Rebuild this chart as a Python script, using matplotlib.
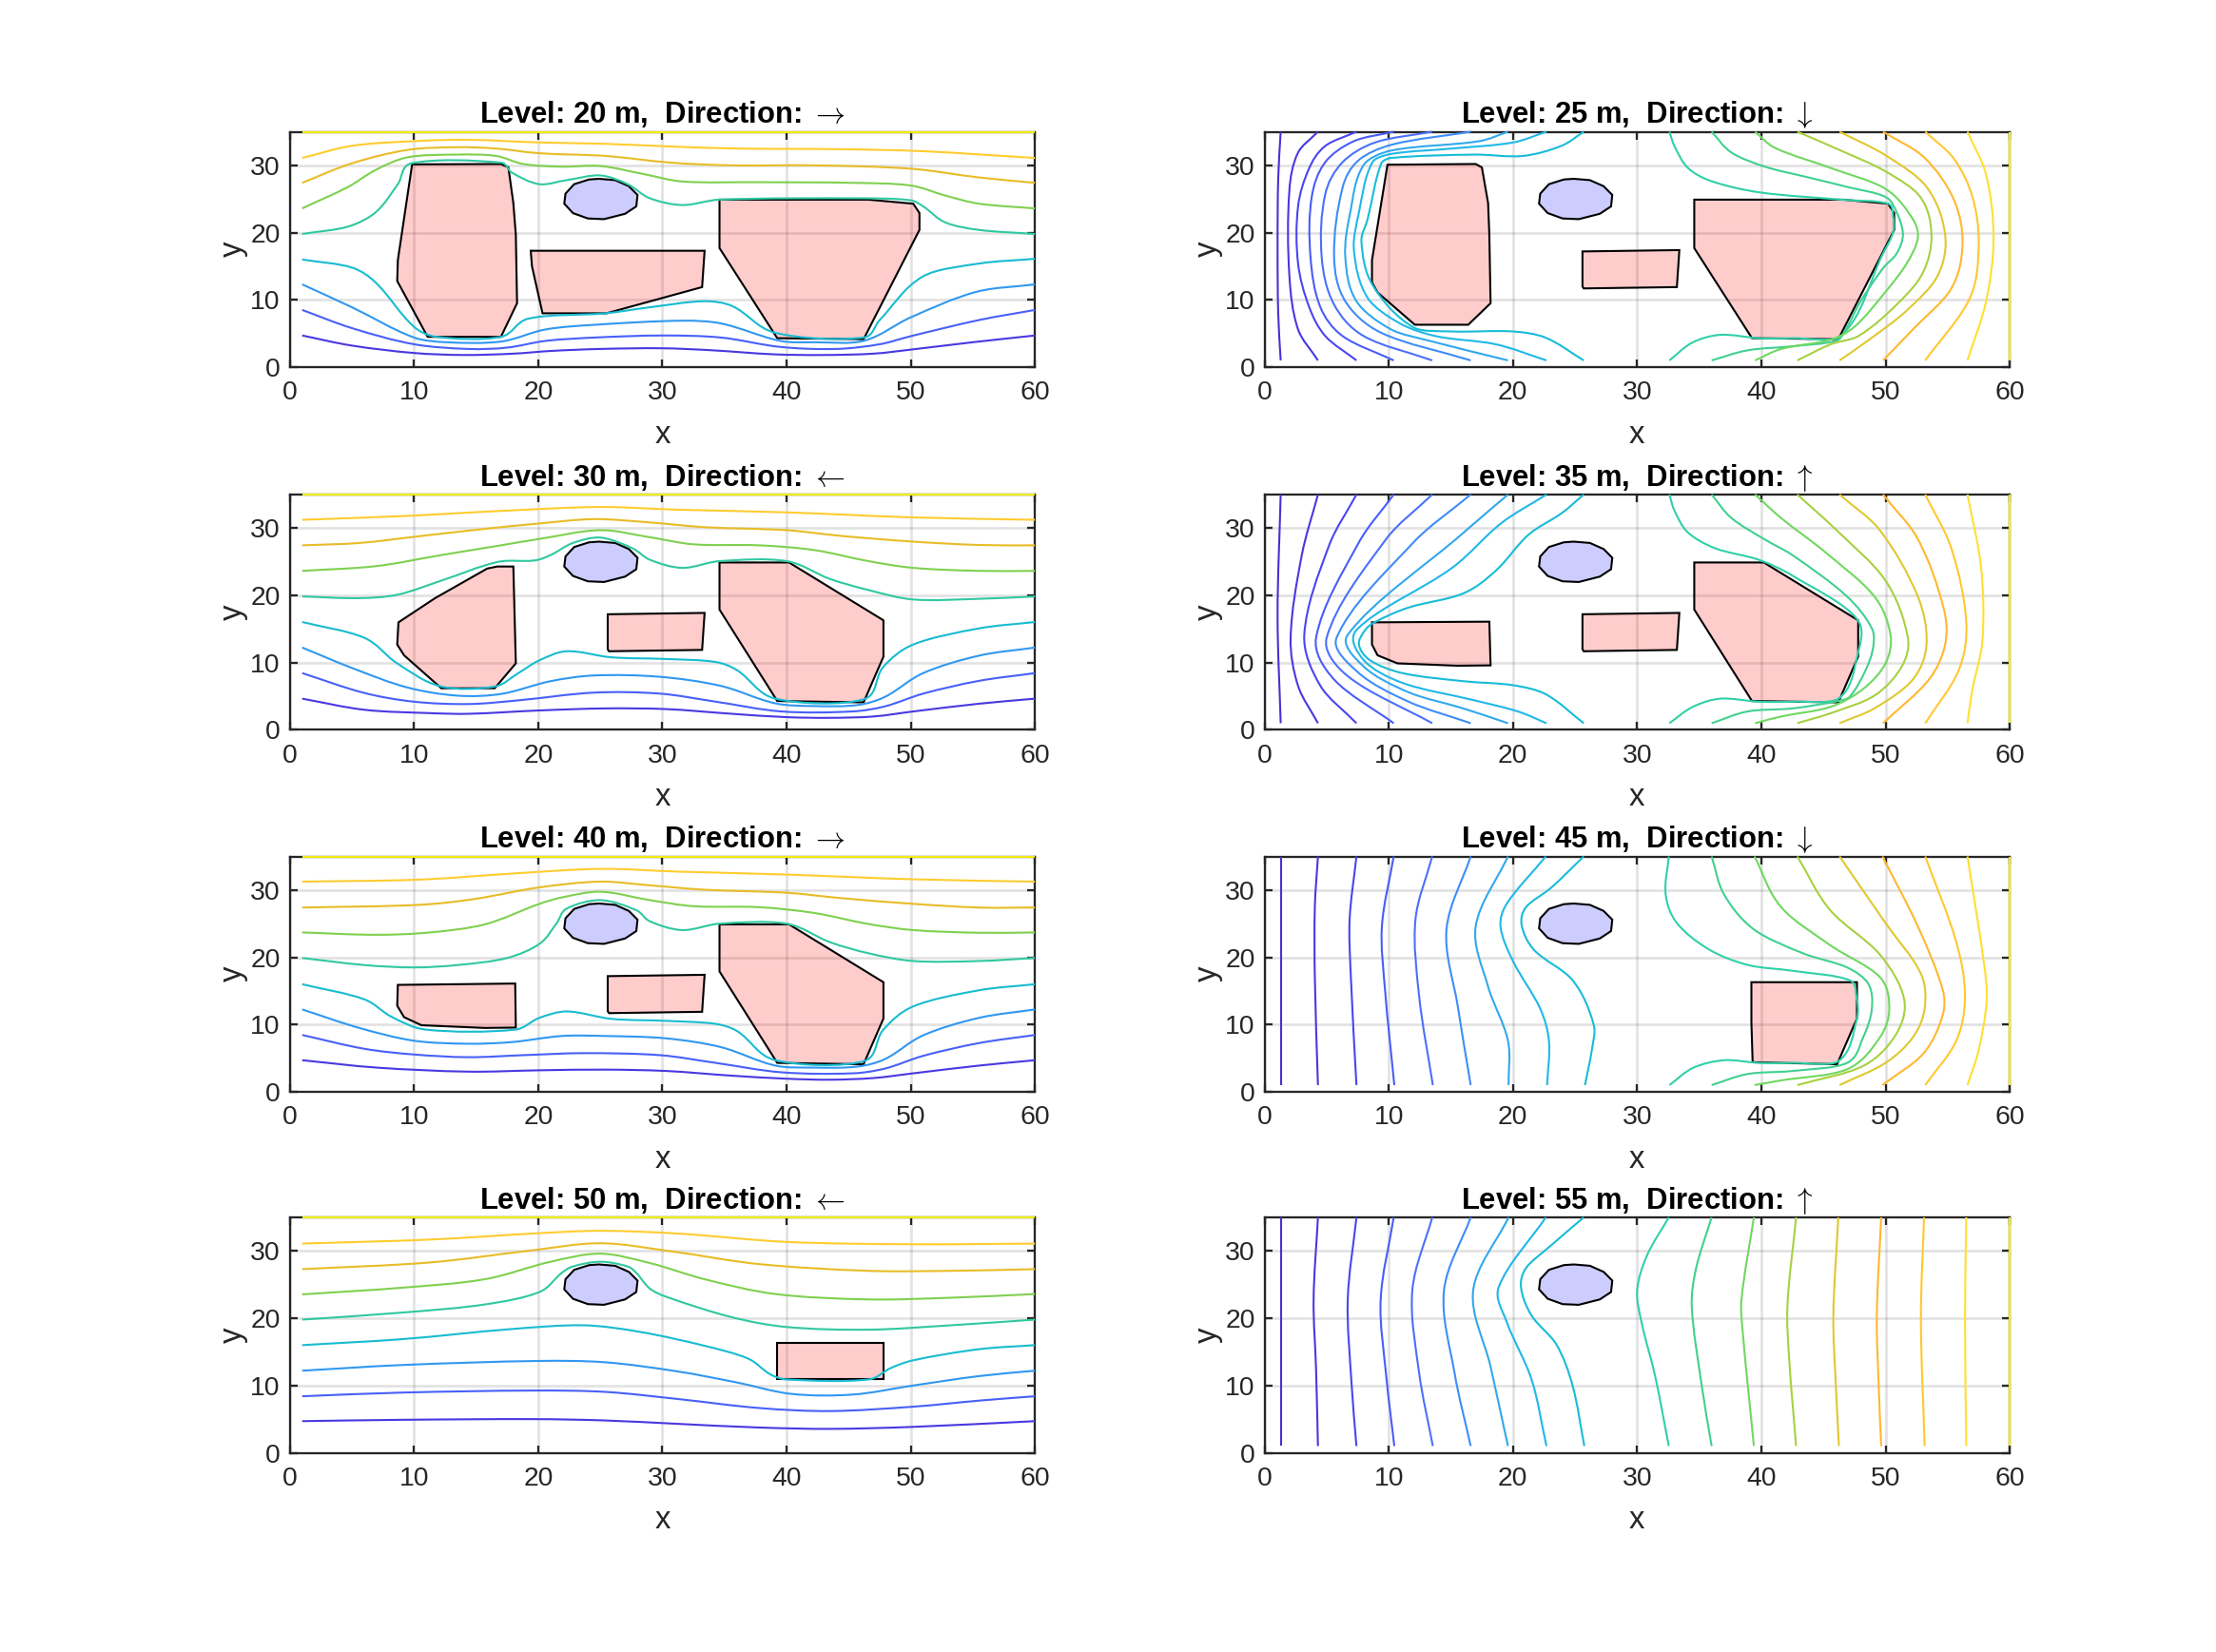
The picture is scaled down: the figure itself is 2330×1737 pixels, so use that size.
import matplotlib
matplotlib.use('Agg')
import matplotlib.pyplot as plt
import numpy as np
from matplotlib.patches import PathPatch, Polygon
from matplotlib.path import Path

plt.rcParams['font.family'] = ['Liberation Sans', 'DejaVu Sans']
plt.rcParams['mathtext.fontset'] = 'cm'

# titles
levels = [20, 25, 30, 35, 40, 45, 50, 55]
arrows = [r'\rightarrow', r'\downarrow', r'\leftarrow', r'\uparrow'] * 2

# buildings, data coords
tank = [(24.9, 28), (26.2, 27.8), (27.3, 26.9), (28, 25.6), (27.9, 23.9), (27, 22.8), (25.3, 22), (24, 22.1),
        (22.8, 22.9), (22.1, 24.3), (22.2, 25.8), (22.9, 27.2), (24.1, 27.9)]
big_low = [(34.6, 24.9), (46.6, 24.9), (50.2, 24.3), (50.7, 22.9), (50.7, 20.4), (46.2, 4.15), (39.25, 4.3), (34.6, 17.7)]
big_mid = [(34.6, 24.9), (40.2, 24.9), (47.8, 16.3), (47.8, 10.9), (46.2, 4.1), (39.25, 4.3), (34.6, 17.9)]
mid_box = [(25.6, 17.2), (33.4, 17.4), (33.2, 11.9), (25.7, 11.7), (25.6, 12)]
b_20 = [[(9.85, 30.15), (17, 30.2), (17.6, 29.7), (18, 24.4), (18.2, 19.7), (18.3, 9.5), (17, 4.5), (11.1, 4.5), (8.65, 12.8), (8.7, 15.9)],
        [(19.4, 17.3), (33.4, 17.3), (33.2, 11.9), (25.5, 8), (20.35, 8), (19.5, 15)], big_low]
b_25 = [[(9.9, 30.1), (17, 30.2), (17.5, 29.7), (18, 24.4), (18.1, 19.7), (18.2, 9.5), (16.4, 6.3), (12.1, 6.3), (9.1, 11.1), (8.65, 12.6), (8.65, 15.9)],
        mid_box, big_low]
b_30 = [[(8.75, 16), (11.7, 19.6), (15.9, 24), (16.7, 24.3), (18, 24.3), (18.2, 9.9), (16.5, 6.2), (12.2, 6.2), (9.2, 11.1), (8.65, 12.7)],
        mid_box, big_mid]
b_35 = [[(8.65, 16), (18.1, 16.1), (18.2, 9.6), (15.5, 9.55), (10.7, 9.9), (9.1, 11.1), (8.65, 12.7)], mid_box, big_mid]
b_40 = [[(8.7, 15.9), (18.15, 16.1), (18.2, 9.55), (15.7, 9.5), (10.6, 9.9), (9.2, 11.1), (8.65, 12.8)], mid_box, big_mid]
b_45 = [[(39.2, 16.3), (47.7, 16.3), (47.7, 10.9), (46.1, 4.1), (39.3, 4.4), (39.2, 10.4)]]
b_50 = [[(39.25, 16.3), (47.8, 16.3), (47.8, 10.9), (39.25, 10.9)]]
b_55 = []

# streamlines, one list of (x, y) per line
top_edge = [(1, 35), (60, 35)]
s_20 = [
    [(1, 4.7), (5, 3.2), (10, 2.1), (14, 1.8), (18, 2), (21, 2.4), (25, 2.7), (30, 2.8), (34, 2.5), (39, 1.9), (43, 1.8), (47, 2), (50, 2.6), (55, 3.7), (60, 4.7)],
    [(1, 8.5), (5, 5.8), (10, 3.4), (14.4, 2.7), (17.5, 2.9), (20.6, 3.9), (24.6, 4.4), (30, 4.7), (34.7, 4.4), (39.5, 3), (44, 2.7), (47.5, 3.4), (50, 4.6), (55.5, 7), (60, 8.5)],
    [(1, 12.3), (5, 8.9), (10, 4.4), (12.6, 3.7), (17, 3.8), (20.6, 5.6), (24.6, 6.3), (31.6, 6.9), (34.7, 6.5), (39.5, 3.9), (42.2, 3.7), (46.2, 3.9), (50, 7.4), (55.3, 11.2), (60, 12.3)],
    [(1, 16), (5, 14.8), (6.9, 12.6), (10, 6), (11.8, 4.5), (17, 4.5), (19.2, 7.2), (25.4, 8), (29, 8.9), (33.4, 9.8), (35.6, 9.1), (39.1, 5.1), (46.2, 4.4), (47.5, 7), (51, 13.5), (55.5, 15.4), (60, 16.1)],
    [(1, 19.8), (4.7, 20.9), (6.9, 23), (8.7, 27.2), (9.8, 30.3), (17, 30.4), (17.9, 28.9), (20.1, 27.2), (22.3, 27.8), (25, 28.5), (27.2, 27.2), (29, 25.1), (31.6, 24.1), (34.6, 24.9), (46.2, 25.1), (50, 24.8), (51, 23.9), (52.8, 21.5), (55.5, 20.4), (60, 19.8)],
    [(1, 23.6), (4.7, 26.8), (6.9, 29.3), (9.5, 31.2), (13.5, 31.6), (16.6, 31.4), (18.8, 30.2), (21.9, 29.8), (25, 29.9), (28.5, 28.7), (31.6, 27.6), (37.8, 27.5), (45.3, 27.4), (50, 27), (52.8, 25.5), (55.5, 24.3), (60, 23.6)],
    [(1, 27.4), (5, 30.3), (9.5, 32.3), (13.5, 32.7), (16.6, 32.5), (20.1, 31.8), (25.4, 31.4), (30.7, 30.4), (35.6, 30), (42.2, 30), (50, 29.5), (55.5, 28.2), (60, 27.4)],
    [(1, 31.1), (5, 32.9), (10, 33.6), (14.4, 33.8), (20.1, 33.4), (25.4, 33.2), (30.7, 32.8), (36, 32.5), (44.4, 32.4), (51, 32.1), (60, 31.1)],
    top_edge,
]
s_25 = [
    [(1.3, 35), (1.1, 28), (1.05, 18), (1.1, 8), (1.3, 1)],
    [(4.3, 35), (2.7, 31.9), (2, 26.3), (2, 13.6), (2.7, 5.6), (4.3, 1)],
    [(7.4, 35), (4.9, 32.9), (3.6, 29.6), (2.7, 23.9), (2.7, 15.4), (3.6, 8.9), (4.9, 4.6), (7.4, 1)],
    [(10.4, 35), (7.2, 33.6), (4.9, 30.5), (3.8, 25.3), (3.7, 16.4), (4.5, 8.9), (6.3, 4.6), (10.4, 1)],
    [(13.5, 35), (8.9, 33.4), (6.3, 30.5), (4.9, 25.8), (4.6, 16.4), (5.6, 9.3), (8, 4.6), (13.5, 1)],
    [(16.6, 35), (10.3, 33.1), (7.6, 30.8), (6.3, 26.8), (5.6, 16.4), (6.5, 9.8), (9.4, 5.1), (16.6, 1)],
    [(19.6, 35), (17.3, 33.6), (10.2, 32.2), (8, 30.1), (6.9, 23), (6.5, 16.4), (7.4, 9.8), (10.2, 5.6), (13.3, 3.9), (19.6, 1)],
    [(22.7, 35), (20, 33.4), (15.1, 32.5), (10.2, 31.7), (8.7, 30.5), (7.6, 23), (7.2, 17.3), (8.3, 10.3), (10.9, 6.5), (13.8, 4.6), (18.6, 3.4), (22.7, 1)],
    [(25.7, 35), (23.9, 32.9), (20.8, 31.4), (16.9, 31.6), (10.2, 31.1), (9.4, 30.3), (8.3, 22), (7.8, 18.7), (8.7, 12.2), (12, 5.9), (15.1, 5.3), (20, 5.3), (22.6, 4.4), (25.7, 1)],
    [(32.6, 35), (33, 32.9), (34.1, 29.6), (35.9, 27.7), (39.8, 26), (46.4, 24.9), (50.2, 24.3), (50.6, 22.5), (50.6, 20), (49.8, 16.9), (46.4, 4.6), (42.5, 4.3), (39.8, 4.3), (36.7, 4.8), (34.5, 3.7), (32.6, 1)],
    [(36, 35), (37.6, 31.9), (40.3, 29.8), (43.8, 28.2), (46.9, 26.8), (50, 25.3), (50.9, 23), (51.4, 19.7), (50.9, 16.9), (49.8, 14.7), (48, 9.8), (46.7, 5.3), (46, 3.9), (42.5, 3.1), (38.9, 2.5), (36, 1)],
    [(39.5, 35), (41.1, 32.6), (45.6, 29.6), (50, 26.5), (52.2, 22), (52.6, 19.2), (51.7, 15.4), (50, 11.2), (47.5, 6), (45.6, 4.1), (41.6, 2.7), (39.5, 1)],
    [(42.9, 35), (46.4, 32.2), (50, 29.1), (52.8, 25.3), (53.7, 19.7), (53, 14), (50.9, 9.3), (47.8, 4.6), (45.6, 3.4), (42.9, 1)],
    [(46.3, 35), (50, 31.5), (53.3, 26.8), (54.8, 19.7), (54.2, 13.6), (51.7, 8.4), (48.7, 4.1), (46.3, 1)],
    [(49.8, 35), (53.1, 31.2), (55.5, 24.9), (56.2, 18.3), (55.3, 11.7), (52.2, 5.6), (49.8, 1)],
    [(53.2, 35), (55.5, 31), (57, 25.3), (57.5, 18.3), (56.8, 10.3), (53.2, 1)],
    [(56.6, 35), (58.1, 28.6), (58.7, 19.2), (58.1, 9.8), (56.6, 1)],
    [(60, 35), (60, 1)],
]
s_30 = [
    [(1, 4.65), (6, 3), (11.3, 2.5), (14.4, 2.4), (20.1, 2.9), (25.4, 3.2), (30.3, 3.1), (35.6, 2.4), (40, 1.9), (43.5, 1.8), (47, 2), (50.2, 2.75), (55.5, 3.9), (60, 4.65)],
    [(1, 8.45), (6, 5.5), (10, 4.2), (14.4, 3.85), (18.4, 4.4), (24.5, 5.55), (29.8, 5.4), (34.3, 4.2), (39.6, 2.75), (45.3, 2.75), (47.9, 3.5), (51, 5.4), (55.5, 7.3), (60, 8.45)],
    [(1, 12.25), (5.1, 9.15), (9.5, 6.3), (13.5, 5.1), (17, 5.35), (21, 7.25), (24.5, 8.1), (29.8, 7.9), (34.7, 6.55), (39.1, 3.95), (42.2, 3.55), (45.7, 3.7), (47.9, 4.9), (51, 8.45), (55.5, 11.05), (60, 12.25)],
    [(1, 16.05), (6, 13.7), (8.65, 9.9), (12.2, 6.45), (16.5, 6.45), (18.4, 8.45), (20.1, 10.35), (22.3, 11.7), (25.9, 10.8), (30.3, 10.55), (34.3, 10.1), (36, 8.9), (39.1, 4.65), (46.2, 4.55), (47.8, 9.4), (50.2, 12.7), (55.5, 15.1), (60, 16.05)],
    [(1, 19.85), (5.6, 19.6), (8.65, 20.1), (12.2, 22.2), (16.8, 25), (19.7, 25.2), (21, 26), (22.8, 27.8), (25, 28.6), (27.6, 27), (29, 25.3), (31.6, 24.1), (34.6, 25.1), (40, 25.1), (43.5, 22.45), (46.6, 20.8), (50.2, 19.4), (55.5, 19.5), (60, 19.85)],
    [(1, 23.65), (6.9, 24.35), (12.2, 26), (17, 27.45), (20.1, 28.4), (25, 29.7), (29, 28.65), (32.5, 27.6), (37.8, 27.45), (42.2, 26.75), (46.6, 25.1), (50.2, 24.1), (55.5, 23.65), (60, 23.65)],
    [(1, 27.45), (5.6, 27.8), (10.4, 28.8), (15.7, 29.9), (20.1, 30.7), (24.5, 31.35), (29, 30.85), (33.4, 30.15), (40, 29.7), (44.4, 28.85), (50.2, 28), (55.5, 27.5), (60, 27.45)],
    [(1, 31.25), (9.1, 31.8), (17.9, 32.65), (25, 33.15), (31.2, 32.75), (40, 32.35), (50.2, 31.6), (60, 31.25)],
    top_edge,
]
s_35 = [
    [(1.3, 35), (1.05, 17), (1.3, 1)],
    [(4.3, 35), (3, 26), (2.1, 13.7), (2.7, 6.55), (4.3, 1)],
    [(7.4, 35), (5.2, 27.45), (3.2, 14.15), (4.5, 6.55), (7.4, 1)],
    [(10.4, 35), (7.6, 27.9), (4.15, 13.7), (5.6, 7.5), (10.4, 1)],
    [(13.5, 35), (9.8, 28.4), (5, 13.7), (6.7, 8), (13.5, 1)],
    [(16.6, 35), (12, 27.9), (5.8, 13.7), (7.6, 8.45), (11.6, 4.2), (16.6, 1)],
    [(19.6, 35), (16, 29.3), (6.7, 14.15), (8, 9.4), (11.6, 5.6), (16, 3.2), (19.6, 1)],
    [(22.7, 35), (19.1, 30.8), (15.1, 24.1), (7.4, 14.85), (8, 10.35), (11.1, 7), (16.9, 4.4), (20.4, 2.75), (22.7, 1)],
    [(25.7, 35), (23.9, 32.2), (21.3, 29.1), (18.6, 23.65), (16, 20.3), (11.6, 18.2), (8.9, 16.05), (8.1, 14.85), (7.6, 12.7), (8.5, 10.35), (11.1, 8.45), (16, 7.25), (20, 6.65), (22.6, 5.35), (25.7, 1)],
    [(32.6, 35), (33, 32.65), (34.1, 29.35), (36.3, 27), (39.8, 25.3), (42.5, 22.95), (47.7, 16.5), (47.7, 10.8), (46.2, 4.65), (42.5, 4.2), (39.8, 4.2), (36.7, 4.65), (34.5, 3.45), (32.6, 1)],
    [(36, 35), (37.6, 31.5), (40.3, 28.3), (42.5, 26), (46.9, 19.85), (48.9, 15.1), (49, 12.25), (48.4, 8.9), (47.1, 4.9), (46.2, 4.3), (42.5, 3.2), (38.9, 2.75), (36, 1)],
    [(39.5, 35), (41.6, 31.5), (45.1, 26.5), (49.1, 19.85), (50.4, 14.15), (50, 9.9), (48.2, 6.1), (45.6, 3.45), (41.6, 2), (39.5, 1)],
    [(42.9, 35), (46, 29.8), (50, 22.2), (51.8, 13.7), (51.3, 9.4), (49.1, 5.1), (45.6, 2.5), (42.9, 1)],
    [(46.3, 35), (49.5, 29.8), (52.6, 19.85), (53.3, 12.7), (52.2, 7.5), (49.1, 3.2), (46.3, 1)],
    [(49.8, 35), (52.6, 28.4), (54.7, 17.95), (54.8, 12.7), (53.5, 7.5), (49.8, 1)],
    [(53.2, 35), (55.3, 27), (56.5, 16.05), (55.9, 8.9), (53.2, 1)],
    [(56.6, 35), (57.7, 24.1), (57.8, 13.2), (57, 6.1), (56.6, 1)],
    [(60, 35), (60, 1)],
]
s_40 = [
    [(1, 4.7), (7, 3.6), (14.4, 3), (20.1, 3.2), (25.4, 3.3), (30.3, 3.1), (35.6, 2.4), (40, 1.95), (43.5, 1.8), (47, 2.05), (50.2, 2.75), (55.5, 3.9), (60, 4.7)],
    [(1, 8.45), (6, 6.4), (10, 5.55), (14.4, 5.15), (18.8, 5.45), (23.7, 5.75), (29.8, 5.45), (34.3, 4.3), (39.6, 2.9), (45.3, 2.75), (47.9, 3.45), (51, 5.35), (55.5, 7.25), (60, 8.45)],
    [(1, 12.25), (5.6, 9.5), (10, 7.6), (14.4, 7.15), (17.9, 7.4), (21.9, 8.3), (25.4, 8.3), (30.3, 7.95), (34.7, 6.65), (39.1, 3.9), (42.2, 3.6), (45.7, 3.75), (47.9, 4.85), (51, 8.4), (55.5, 11), (60, 12.25)],
    [(1, 16), (6, 13.75), (8.2, 11.15), (10.95, 9.25), (18.15, 9.25), (20.1, 11), (22.3, 11.95), (25.9, 10.85), (30.3, 10.55), (34.3, 10.1), (36, 9.05), (39.1, 4.7), (46.2, 4.55), (47.8, 9.25), (50.2, 12.7), (55.5, 15.1), (60, 16)],
    [(1, 19.9), (6, 18.85), (10, 18.5), (13.5, 18.85), (17.5, 19.9), (20.1, 22), (21.5, 25.1), (22.3, 27.25), (25, 28.5), (27.9, 27), (29, 25.35), (31.6, 24.05), (34.6, 25), (40, 25), (43.5, 22.25), (46.6, 20.6), (50.2, 19.45), (55.5, 19.45), (60, 19.9)],
    [(1, 23.7), (6.9, 23.35), (11.3, 23.7), (15.7, 24.9), (20.1, 27.95), (21.9, 28.9), (25, 29.75), (29, 28.5), (32.5, 27.6), (37.8, 27.45), (42.2, 26.6), (46.6, 24.95), (50.2, 24.05), (55.5, 23.65), (60, 23.7)],
    [(1, 27.4), (10.4, 27.8), (14.8, 28.65), (20.1, 30.4), (25, 31.25), (29, 30.7), (33.4, 30.05), (40, 29.6), (44.4, 28.8), (50.2, 27.95), (55.5, 27.4), (60, 27.4)],
    [(1, 31.25), (10.4, 31.55), (17.9, 32.45), (25, 33.15), (31.2, 32.75), (40, 32.3), (50.2, 31.6), (60, 31.25)],
    top_edge,
]
s_45 = [
    [(1.3, 35), (1.3, 1)],
    [(4.3, 35), (4.05, 27.5), (4.05, 17), (4.3, 1)],
    [(7.4, 35), (6.85, 25.6), (6.95, 17.1), (7.4, 1)],
    [(10.4, 35), (9.45, 24.6), (9.7, 15.2), (10.45, 1)],
    [(13.5, 35), (12.15, 25.6), (12.45, 14.2), (13.55, 1)],
    [(16.6, 35), (14.65, 24.15), (15.55, 12.8), (16.6, 1)],
    [(19.6, 35), (17, 24.6), (18, 15.65), (19.6, 7.6), (19.65, 1)],
    [(22.65, 35), (19.5, 27.95), (19, 24.6), (20, 19.45), (22.2, 12.35), (22.9, 7.6), (22.75, 1)],
    [(25.7, 35), (23.05, 30.3), (21.05, 27.45), (20.7, 24.85), (21.7, 21.1), (24.8, 16.6), (26.5, 10), (26.35, 6.2), (25.8, 1)],
    [(32.55, 35), (32.3, 29.35), (33.2, 25.1), (35.85, 21.1), (38.95, 18.85), (42.5, 18), (47.1, 16.6), (47.65, 14.25), (47.7, 10.9), (46.2, 4.55), (42.5, 4.3), (39.8, 4.3), (37, 4.7), (34.55, 3.6), (32.6, 1)],
    [(36, 35), (37, 29.35), (39.4, 24.15), (43.35, 20.6), (46.9, 18.5), (48.6, 16.1), (48.9, 12.35), (48.2, 8.1), (46.9, 4.3), (42.5, 3.1), (38.9, 2.65), (36, 1)],
    [(39.45, 35), (41.6, 27.45), (45.55, 21.8), (49.55, 17.05), (50.3, 12.35), (49.55, 8.1), (46.9, 3.35), (41.6, 1.7), (39.45, 1)],
    [(42.9, 35), (45.55, 27), (49.55, 20.4), (51.5, 13.75), (50.85, 8.55), (48.2, 3.85), (42.9, 1)],
    [(46.3, 35), (50, 25.1), (52.85, 17.55), (53.15, 12.35), (52.2, 8.1), (50, 4.3), (46.3, 1)],
    [(49.75, 35), (52.6, 24.6), (54.6, 15.2), (54.6, 11.4), (53.05, 5.7), (49.75, 1)],
    [(53.2, 35), (55.7, 22.25), (56.4, 14.25), (55.7, 7.6), (53.2, 1)],
    [(56.6, 35), (57.9, 19.45), (58.15, 13.75), (57.5, 6.2), (56.6, 1)],
    [(60, 35), (60, 1)],
]
s_50 = [
    [(1, 4.7), (9.1, 4.9), (19.7, 5), (25.4, 4.8), (31.2, 4.3), (37.8, 3.75), (43.5, 3.55), (50.2, 3.85), (60, 4.7)],
    [(1, 8.4), (9.1, 8.95), (19.7, 9.25), (25.4, 9.05), (31.2, 8), (37.8, 6.65), (43.5, 6.2), (50.2, 6.85), (55.5, 7.75), (60, 8.4)],
    [(1, 12.2), (9.1, 13.05), (20.1, 13.65), (25.4, 13.45), (31.2, 12.1), (36, 10.45), (40.4, 8.75), (45.3, 8.65), (50.2, 10), (55.5, 11.4), (60, 12.2)],
    [(1, 16), (9.1, 16.9), (17.9, 18.4), (23.7, 18.95), (28.1, 18), (33.4, 15.9), (36.9, 14), (38.7, 11.65), (40, 10.9), (46.6, 10.9), (48.4, 12.6), (50.2, 13.75), (55.5, 15.4), (60, 16)],
    [(1, 19.8), (9.1, 20.85), (15.7, 22.05), (20.1, 23.9), (21.9, 26.75), (22.8, 27.7), (25, 28.4), (27.2, 27.7), (27.9, 26.75), (29, 24.4), (30.3, 23.2), (35.6, 20.15), (40, 18.7), (46.6, 18.3), (53.2, 18.95), (60, 19.8)],
    [(1, 23.55), (9.1, 24.55), (15.7, 25.8), (21, 28.4), (25, 29.6), (29, 28.2), (33.4, 25.8), (39.1, 23.6), (46.6, 22.8), (53.2, 23.05), (60, 23.6)],
    [(1, 27.3), (11.3, 28.3), (19.3, 30.05), (25, 31.15), (30.7, 29.95), (37.8, 28.05), (46.6, 27.05), (53.2, 27.05), (60, 27.3)],
    [(1, 31.1), (11.3, 31.7), (20.1, 32.65), (25, 33), (31.2, 32.6), (40, 31.35), (50.2, 31), (60, 31.1)],
    top_edge,
]
s_55 = [
    [(1.3, 35), (1.3, 1)],
    [(4.3, 35), (3.95, 22.75), (4.15, 12.35), (4.3, 1)],
    [(7.4, 35), (6.7, 22.75), (7, 10.45), (7.4, 1)],
    [(10.4, 35), (9.35, 22.75), (9.8, 11.4), (10.45, 1)],
    [(13.5, 35), (11.9, 24.15), (12.45, 11.85), (13.55, 1)],
    [(16.6, 35), (14.45, 24.15), (15.3, 11.85), (16.6, 1)],
    [(19.65, 35), (16.8, 24.15), (18.2, 12.8), (19.6, 1)],
    [(22.65, 35), (18.85, 24.6), (19.5, 19.45), (21.5, 10.9), (22.7, 1)],
    [(25.7, 35), (23.05, 30.8), (21.05, 27.45), (20.65, 24.6), (21.5, 20.4), (23.5, 16.1), (24.8, 10), (25.75, 1)],
    [(32.55, 35), (30.8, 29.35), (30, 24.15), (30.35, 19.45), (31.45, 11.4), (32.55, 1)],
    [(36, 35), (34.75, 27.45), (34.4, 21.8), (35.2, 10), (36, 1)],
    [(39.4, 35), (38.4, 22.75), (38.5, 18), (39.4, 1)],
    [(42.8, 35), (42.1, 21.8), (42.25, 13.75), (42.8, 1)],
    [(46.2, 35), (45.8, 20.4), (46, 10), (46.25, 1)],
    [(49.65, 35), (49.3, 20.4), (49.45, 10), (49.65, 1)],
    [(53.1, 35), (52.85, 19.9), (53.15, 1)],
    [(56.5, 35), (56.4, 19.9), (56.5, 1)],
    [(60, 35), (60, 1)],
]

buildings = [b_20, b_25, b_30, b_35, b_40, b_45, b_50, b_55]
streams = [s_20, s_25, s_30, s_35, s_40, s_45, s_50, s_55]

# line colours
v_colors = ['#4a30d0', '#4838e0', '#4a45f0', '#4a5cf8', '#4a70fa', '#3f8cf8', '#30a8ee', '#20b8e8', '#18bcd8',
            '#30d0a8', '#40d090', '#70d860', '#a8d040', '#e0c830', '#ffb830', '#ffc830', '#ffe030', '#f0ec10']
h_colors = ['#4a38e0', '#4860f8', '#3098f0', '#18bcd0', '#30c8a0', '#80d050', '#e8bc28', '#ffcc30', '#f0ec10']

W, H = 2330, 1737
lefts = [304.7, 1329.6]
tops = [138.5, 520, 900.5, 1280]
ax_w, ax_h = 783.5, 247.5
dark = '#262626'


def curve_path(pts):
    # bezier through the read points so the lines are drawn smooth
    p = np.array(pts, dtype=float)
    if len(p) == 2:
        return Path(p)
    d = np.hypot(*np.diff(p, axis=0).T)
    m = np.zeros_like(p)
    m[0] = (p[1] - p[0]) / d[0]
    m[-1] = (p[-1] - p[-2]) / d[-1]
    m[1:-1] = (p[2:] - p[:-2]) / (d[:-1] + d[1:])[:, None]
    verts = [p[0]]
    codes = [Path.MOVETO]
    for i in range(len(d)):
        verts += [p[i] + m[i] * d[i] / 3, p[i + 1] - m[i + 1] * d[i] / 3, p[i + 1]]
        codes += [Path.CURVE4] * 3
    return Path(verts, codes)


fig = plt.figure(figsize=(W / 300, H / 300), dpi=300)

for k in range(8):
    row, col = k // 2, k % 2
    ax = fig.add_axes([lefts[col] / W, 1 - (tops[row] + ax_h) / H, ax_w / W, ax_h / H])
    ax.set_xlim(0, 60)
    ax.set_ylim(0, 35)
    ax.set_xticks([0, 10, 20, 30, 40, 50, 60])
    ax.set_yticks([0, 10, 20, 30])
    ax.grid(True, color='#262626', alpha=0.13, lw=0.65)
    ax.set_axisbelow(True)
    ax.tick_params(direction='in', top=True, right=True, length=1.9, width=0.55, labelsize=6.8, colors=dark)
    ax.tick_params(axis='x', pad=3.4)
    ax.tick_params(axis='y', pad=2.4)
    for sp in ax.spines.values():
        sp.set_linewidth(0.55)
        sp.set_color(dark)

    for b in buildings[k]:
        ax.add_patch(Polygon(b, closed=True, facecolor=(1, 0, 0, 0.2), edgecolor='k', lw=0.5, zorder=2))
    ax.add_patch(Polygon(tank, closed=True, facecolor=(0, 0, 1, 0.2), edgecolor='k', lw=0.5, zorder=2))

    colors = v_colors if col == 1 else h_colors
    for i, line in enumerate(streams[k]):
        ax.add_patch(PathPatch(curve_path(line), facecolor='none', edgecolor=colors[i],
                               lw=0.5, zorder=3, clip_on=False))

    ax.set_title('Level: %d m,  Direction: $%s$' % (levels[k], arrows[k]), fontsize=7.45,
                 fontweight='bold', color='k', pad=2.2)
    ax.set_xlabel('x', fontsize=7.9, color=dark, va='center')
    ax.set_ylabel('y', fontsize=7.9, color=dark, va='center')
    ax.xaxis.set_label_coords(0.5, -0.287)
    ax.yaxis.set_label_coords(-0.076, 0.5)

fig.savefig('out.png', dpi=300)
